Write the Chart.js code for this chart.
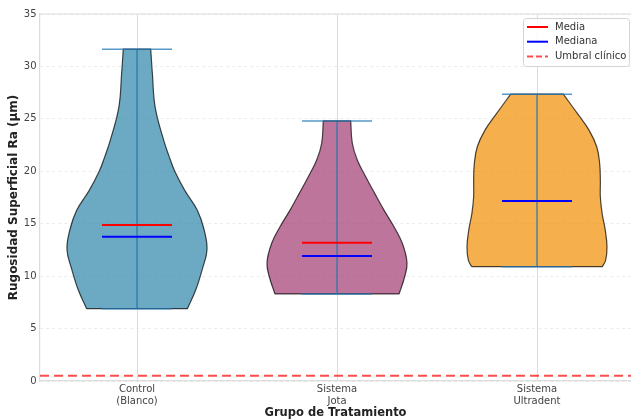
<!DOCTYPE html>
<html>
<head>
<meta charset="utf-8">
<script src="https://cdn.jsdelivr.net/npm/chart.js@4.4.1/dist/chart.umd.min.js"></script>
<style>
  html, body { margin: 0; padding: 0; background: #fff; }
  #wrap { width: 631px; height: 419px; }
</style>
</head>
<body>
<div id="wrap"><canvas id="violin-chart" width="631" height="419"></canvas></div>
<script>
// Rugosidad superficial por grupo de tratamiento (violines)
const xTickLabels = [['Control', '(Blanco)'], ['Sistema', 'Jota'], ['Sistema', 'Ultradent']];
const groupColors = ['rgba(46,134,171,0.7)', 'rgba(162,59,114,0.7)', 'rgba(241,143,1,0.7)'];

// contorno de cada violin: niveles (µm) y densidad relativa (max = 1)
const controlLevels = [6.9, 8.7, 10.6, 12.5, 14.4, 16.3, 18.2, 20.0, 21.4, 23.0, 26.1, 29.3, 31.65];
const controlDensity = [0.72, 0.84, 0.93, 1.0, 0.96, 0.86, 0.68, 0.54, 0.46, 0.38, 0.26, 0.22, 0.196];
const jotaLevels = [8.3, 9.94, 11.3, 13.13, 14.71, 16.3, 17.89, 19.48, 21.07, 22.66, 24.8];
const jotaDensity = [0.886, 0.967, 1.0, 0.933, 0.814, 0.671, 0.539, 0.41, 0.29, 0.219, 0.196];
const ultraLevels = [10.9, 11.53, 12.8, 14.39, 15.99, 17.57, 19.16, 20.75, 22.34, 23.93, 25.52, 27.35];
const ultraDensity = [0.933, 0.981, 1.0, 0.975, 0.93, 0.905, 0.905, 0.895, 0.853, 0.743, 0.576, 0.376];

const mins = [6.9, 8.3, 10.9];
const maxs = [31.65, 24.8, 27.35];
const means = [14.87, 13.19, 17.17];
const medians = [13.76, 11.92, 17.17];
const umbralClinico = 0.5;

const levelsArr = [controlLevels, jotaLevels, ultraLevels];
const densityArr = [controlDensity, jotaDensity, ultraDensity];

const X_MIN = 0.515, X_MAX = 3.47;
const VIOLIN_HALF = 0.35;
const BAR_HALF = 0.175;
const cbarColor = 'rgba(31,119,180,0.75)';

// corner points are repeated so the spline keeps the flat cuts sharp
function violinPoints(pos, levels, density) {
    const left = levels.map((y, i) => ({ x: pos - density[i] * VIOLIN_HALF, y: y }));
    const right = levels.map((y, i) => ({ x: pos + density[i] * VIOLIN_HALF, y: y })).reverse();
    const n = levels.length;
    return [left[0], ...left, left[n - 1], right[0], ...right, right[n - 1], left[0], left[0]];
}

function hLine(pos, y) {
    return [{ x: pos - BAR_HALF, y: y }, { x: pos + BAR_HALF, y: y }];
}

const base = { showLine: true, pointRadius: 0, pointHoverRadius: 0, fill: false };
const datasets = [];

xTickLabels.forEach((_, i) => {
    const pos = i + 1;
    datasets.push({ ...base, data: violinPoints(pos, levelsArr[i], densityArr[i]), fill: 'shape',
        backgroundColor: groupColors[i], borderColor: 'rgba(0,0,0,0.7)', borderWidth: 1.2, tension: 0.4, order: 10 });
    datasets.push({ ...base, data: [{ x: pos, y: mins[i] }, { x: pos, y: maxs[i] }], borderColor: cbarColor, borderWidth: 1.5, order: 5 });
    datasets.push({ ...base, data: hLine(pos, mins[i]), borderColor: cbarColor, borderWidth: 1.5, order: 5 });
    datasets.push({ ...base, data: hLine(pos, maxs[i]), borderColor: cbarColor, borderWidth: 1.5, order: 5 });
    datasets.push({ ...base, label: i === 0 ? 'Media' : '', data: hLine(pos, means[i]), borderColor: '#ff0000', borderWidth: 2, order: 2 });
    datasets.push({ ...base, label: i === 0 ? 'Mediana' : '', data: hLine(pos, medians[i]), borderColor: '#0000ff', borderWidth: 2, order: 1 });
});
datasets.push({ ...base, label: 'Umbral clínico', data: [{ x: X_MIN, y: umbralClinico }, { x: X_MAX, y: umbralClinico }],
    borderColor: 'rgba(255,0,0,0.7)', borderWidth: 2, borderDash: [9, 5], order: 0 });

const framePlugin = {
    id: 'frame',
    beforeDatasetsDraw(chart) {
        const { ctx, chartArea: a } = chart;
        ctx.save();
        ctx.strokeStyle = '#dcdcdc';
        ctx.lineWidth = 1.2;
        ctx.beginPath();
        ctx.moveTo(a.left, a.top);
        ctx.lineTo(a.right, a.top);
        ctx.stroke();
        ctx.restore();
    },
    afterDraw(chart) {
        const { ctx, chartArea: a } = chart;
        const items = chart.data.datasets.filter(d => d.label);
        const w = 106, h = 48;
        const x = a.right - w - 2, y = a.top + 4;
        ctx.save();
        ctx.fillStyle = 'rgba(255,255,255,0.85)';
        ctx.strokeStyle = '#d4d4d4';
        ctx.lineWidth = 1;
        ctx.beginPath();
        ctx.roundRect(x + 0.5, y + 0.5, w, h, 3);
        ctx.fill();
        ctx.stroke();
        ctx.font = '10px "DejaVu Sans"';
        ctx.textBaseline = 'middle';
        items.forEach((d, i) => {
            const ry = y + 9 + i * 14.7;
            ctx.strokeStyle = d.borderColor;
            ctx.lineWidth = 2;
            ctx.setLineDash(d.borderDash ? [6, 3] : []);
            ctx.beginPath();
            ctx.moveTo(x + 4, ry);
            ctx.lineTo(x + 25, ry);
            ctx.stroke();
            ctx.setLineDash([]);
            ctx.fillStyle = '#333';
            ctx.fillText(d.label, x + 32, ry);
        });
        ctx.restore();
    }
};

Chart.defaults.font.family = '"DejaVu Sans", sans-serif';

new Chart(document.getElementById('violin-chart'), {
    type: 'scatter',
    data: { datasets: datasets },
    options: {
        responsive: false,
        animation: false,
        layout: { padding: { top: 14, right: 0, left: 0, bottom: 0 } },
        plugins: { legend: { display: false }, tooltip: { enabled: false } },
        scales: {
            x: {
                type: 'linear',
                min: X_MIN,
                max: X_MAX,
                afterBuildTicks: (scale) => { scale.ticks = xTickLabels.map((_, i) => ({ value: i + 1 })); },
                afterFit: (scale) => { scale.height = 38; },
                ticks: {
                    callback: (v) => xTickLabels[Math.round(v) - 1] || '',
                    color: '#444',
                    font: { size: 10 },
                    padding: 2,
                    maxRotation: 0,
                    autoSkip: false
                },
                grid: { color: '#dcdcdc', lineWidth: 1, drawTicks: false },
                border: { color: '#dcdcdc', width: 1.2 },
                title: { display: true, text: 'Grupo de Tratamiento', color: '#222',
                    font: { size: 11.5, weight: 'bold', lineHeight: 1.0 }, padding: { top: 0, bottom: 0 } }
            },
            y: {
                min: 0,
                max: 35,
                afterFit: (scale) => { scale.width = 40; },
                ticks: { stepSize: 5, color: '#444', font: { size: 10 }, padding: 3.5 },
                grid: { color: '#ebebeb', lineWidth: 1, drawTicks: false },
                border: { color: '#dcdcdc', width: 1.2, dash: [3, 3] },
                title: { display: true, text: 'Rugosidad Superficial Ra (µm)', color: '#222',
                    font: { size: 12, weight: 'bold' }, padding: { top: 6.8, bottom: 0 } }
            }
        }
    },
    plugins: [framePlugin]
});
</script>
</body>
</html>
